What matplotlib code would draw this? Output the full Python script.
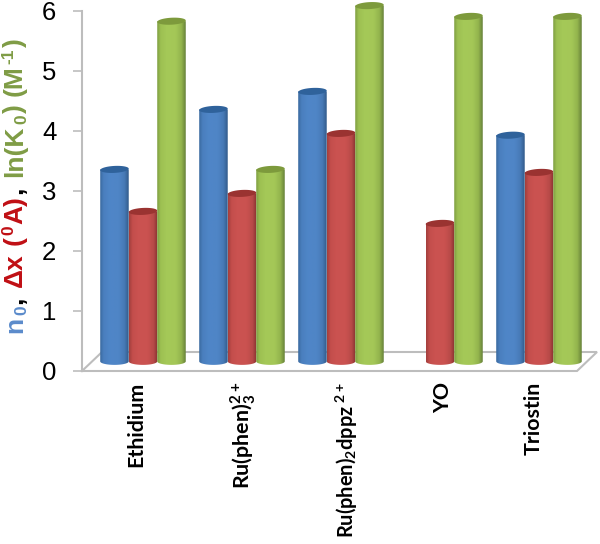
import numpy as np
import matplotlib
matplotlib.use('Agg')
import matplotlib.pyplot as plt
from matplotlib.colors import LinearSegmentedColormap
from matplotlib.path import Path
from matplotlib.transforms import IdentityTransform

categories = ['Ethidium', r'Ru(phen)$_{\mathbf{3}}^{\mathbf{2+}}$',
              r'Ru(phen)$_{\mathbf{2}}$dppz$\,^{\mathbf{2+}}$', 'YO', 'Triostin']
n0 = [3.2, 4.2, 4.5, np.nan, 3.77]
dx = [2.5, 2.8, 3.8, 2.3, 3.15]
lnk = [5.67, 3.2, 5.93, 5.75, 5.75]
yticks = [0, 1, 2, 3, 4, 5, 6]

plt.rcParams['mathtext.fontset'] = 'custom'
plt.rcParams['mathtext.bf'] = 'Lato:bold'
plt.rcParams['mathtext.rm'] = 'Lato:bold'

W, H = 600, 544
fig = plt.figure(figsize=(W/100, H/100), dpi=100)
ax = fig.add_axes([82/W, (H-371)/H, 495/W, 360/H])
ax.set_xlim(-0.616, 4.384)
ax.set_ylim(0, 6)

BAR_W = 0.288
BASE = 0.16      # bars stand back from the front edge of the floor
CAP = 0.058
DEPTH_X, DEPTH_Y = 20/99, 19/60
GRID = '#bdbdbd'

# floor
x0, x1 = ax.get_xlim()
ax.plot([x0, x1, x1+DEPTH_X, x0+DEPTH_X, x0], [0, 0, DEPTH_Y, DEPTH_Y, 0], color=GRID, lw=1.5,
        clip_on=False, zorder=1, solid_joinstyle='miter')

series = [
    (n0, -BAR_W, ['#3a6a9f', '#4a7fbe', '#4f86c8', '#4f85c6', '#477ab6', '#325b8b'], '#2f629b'),
    (dx, 0.0, ['#a33f3d', '#c44e4c', '#cb5351', '#ca5250', '#b84a48', '#873230'], '#9a3331'),
    (lnk, BAR_W, ['#7f9e41', '#9dc052', '#a5c958', '#a4c757', '#93b44d', '#67823a'], '#7d9a3c'),
]
grad_pos = [0, 0.12, 0.35, 0.65, 0.85, 1]

t = np.linspace(0, 2*np.pi, 80)
z = 3
for i in range(len(categories)):
    for vals, off, grad, cap_col in series:
        v = vals[i]
        if np.isnan(v):
            continue
        xc = i + off
        top = v + BASE
        left, right = xc - BAR_W/2, xc + BAR_W/2
        # side of the cylinder: gradient clipped to rect + rounded bottom
        tb = np.linspace(np.pi, 2*np.pi, 30)
        xs = np.r_[left, xc + BAR_W/2*np.cos(tb), right]
        ys = np.r_[top, BASE + CAP*np.sin(tb), top]
        cmap = LinearSegmentedColormap.from_list('c', list(zip(grad_pos, grad)))
        im = ax.imshow(np.linspace(0, 1, 64)[None, :], cmap=cmap, aspect='auto', extent=[left, right, BASE-CAP, top],
                       interpolation='bilinear', zorder=z)
        im.set_clip_path(Path(np.c_[np.r_[xs, left], np.r_[ys, top]], closed=True), ax.transData)
        im.set_clip_box(fig.bbox)
        # tilted top cap
        cx = xc + BAR_W/2*np.cos(t)
        cy = top + CAP*np.sin(t) + 0.012*np.cos(t)
        ax.fill(cx, cy, color=cap_col, lw=0, zorder=z+1, clip_on=False)
        z += 2

ax.set_xlim(x0, x1)
ax.set_ylim(0, 6)

for s in ['top', 'right', 'bottom']:
    ax.spines[s].set_visible(False)
ax.spines['left'].set_color(GRID)
ax.spines['left'].set_linewidth(1.5)
ax.patch.set_alpha(0)

label_shift = np.array([-0.07, 0.01, 0.06, 0.03, -0.05])
ax.set_xticks(np.arange(5) + label_shift, categories, rotation=90, fontfamily='Lato', fontweight='bold', fontsize=15.4)
ax.get_xticklabels()[2].set_fontsize(14.4)
ax.tick_params(axis='x', length=0, pad=8)
ax.set_yticks(yticks)
ax.set_yticklabels([str(v) for v in yticks], fontfamily='Liberation Sans', fontsize=18.5)
ax.tick_params(axis='y', length=6.5, width=1.2, color=GRID, pad=12)

# y title, built piece by piece because of the colours
BLUE, RED, GREEN = '#5b8bcb', '#c00f14', '#7f9c45'
pieces = [
    ('n', BLUE, 19, 0, 1.5), ('0', BLUE, 12.5, -4, 1.5), (',', 'black', 19, 0, 10),
    ('\u0394x', RED, 19, 0, 8), ('(', RED, 19, 0, 1.5), ('0', RED, 12.5, 9, 1.5), ('A)', RED, 19, 0, 1.5), (',', 'black', 19, 0, 10),
    ('ln(K', GREEN, 19, 0, 1.5), ('0', GREEN, 12.5, -4, 1.5), (')', GREEN, 19, 0, 8),
    ('(M', GREEN, 19, 0, 1.5), ('-1', GREEN, 12.5, 9, 1.5), (')', GREEN, 19, 0, 0),
]
rend = fig.canvas.get_renderer()
ypos = H - 333
for txt, col, size, shift, gap in pieces:
    tt = fig.text(22 + (-shift), ypos, txt, color=col, fontsize=size, fontweight='bold', fontfamily='Liberation Sans',
                  rotation=90, rotation_mode='anchor', ha='left', va='baseline', transform=IdentityTransform())
    ypos += tt.get_window_extent(rend).height + gap

fig.savefig('out.png', dpi=100)
